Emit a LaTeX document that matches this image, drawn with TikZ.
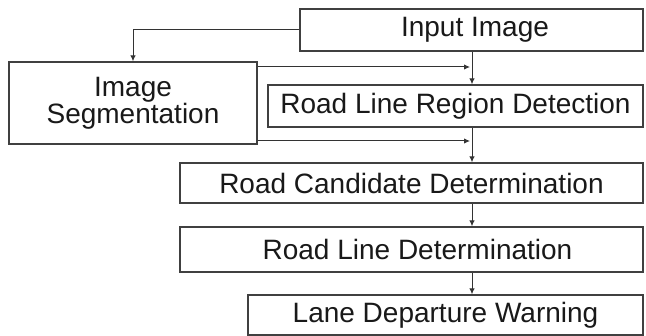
\documentclass[tikz,border=0pt]{standalone}
\usepackage{fontspec}
\setmainfont{Liberation Sans}
\usetikzlibrary{arrows.meta,calc}
\begin{document}
\begin{tikzpicture}[x=1pt,y=-1pt,
  stage/.style={draw=black!75,line width=1.3pt,fill=white,inner sep=0pt,
    text=black!90,font=\fontsize{28}{27}\selectfont,align=center},
  link/.style={draw=black!80,line width=1pt,-{Latex[length=6pt,width=5.5pt]}}]
\useasboundingbox (0,0) rectangle (646,336);
% processing stages
\node[stage,minimum width=343pt,minimum height=42pt] (in)   at (471.5,30)  {\hspace*{7pt}Input Image};
\node[stage,minimum width=248pt,minimum height=82pt] (seg)  at (133,103)   {Image\\Segmentation};
\node[stage,minimum width=375pt,minimum height=42pt] (rlrd) at (455.5,106) {Road Line Region Detection};
\node[stage,minimum width=463pt,minimum height=40pt] (rcd)  at (411.5,183) {Road Candidate Determination};
\node[stage,minimum width=463pt,minimum height=45pt] (rld)  at (411.5,249.5) {\hspace*{12pt}Road Line Determination};
\node[stage,minimum width=395pt,minimum height=40pt] (ldw)  at (445.5,315) {Lane Departure Warning};
% main vertical spine and side inputs
\coordinate (sx) at (472,0);
\coordinate (h1) at (470,67);
\coordinate (h2) at (470,141);
\draw[link] (in.west) -| (seg.north);
\draw[link] (sx |- in.south) -- (sx |- rlrd.north);
\draw[link] (sx |- rlrd.south) -- (sx |- rcd.north);
\draw[link] (sx |- rcd.south) -- (sx |- rld.north);
\draw[link] (sx |- rld.south) -- (sx |- ldw.north);
\draw[link] (seg.east |- h1) -- (h1);
\draw[link] (seg.east |- h2) -- (h2);
\end{tikzpicture}
\end{document}
